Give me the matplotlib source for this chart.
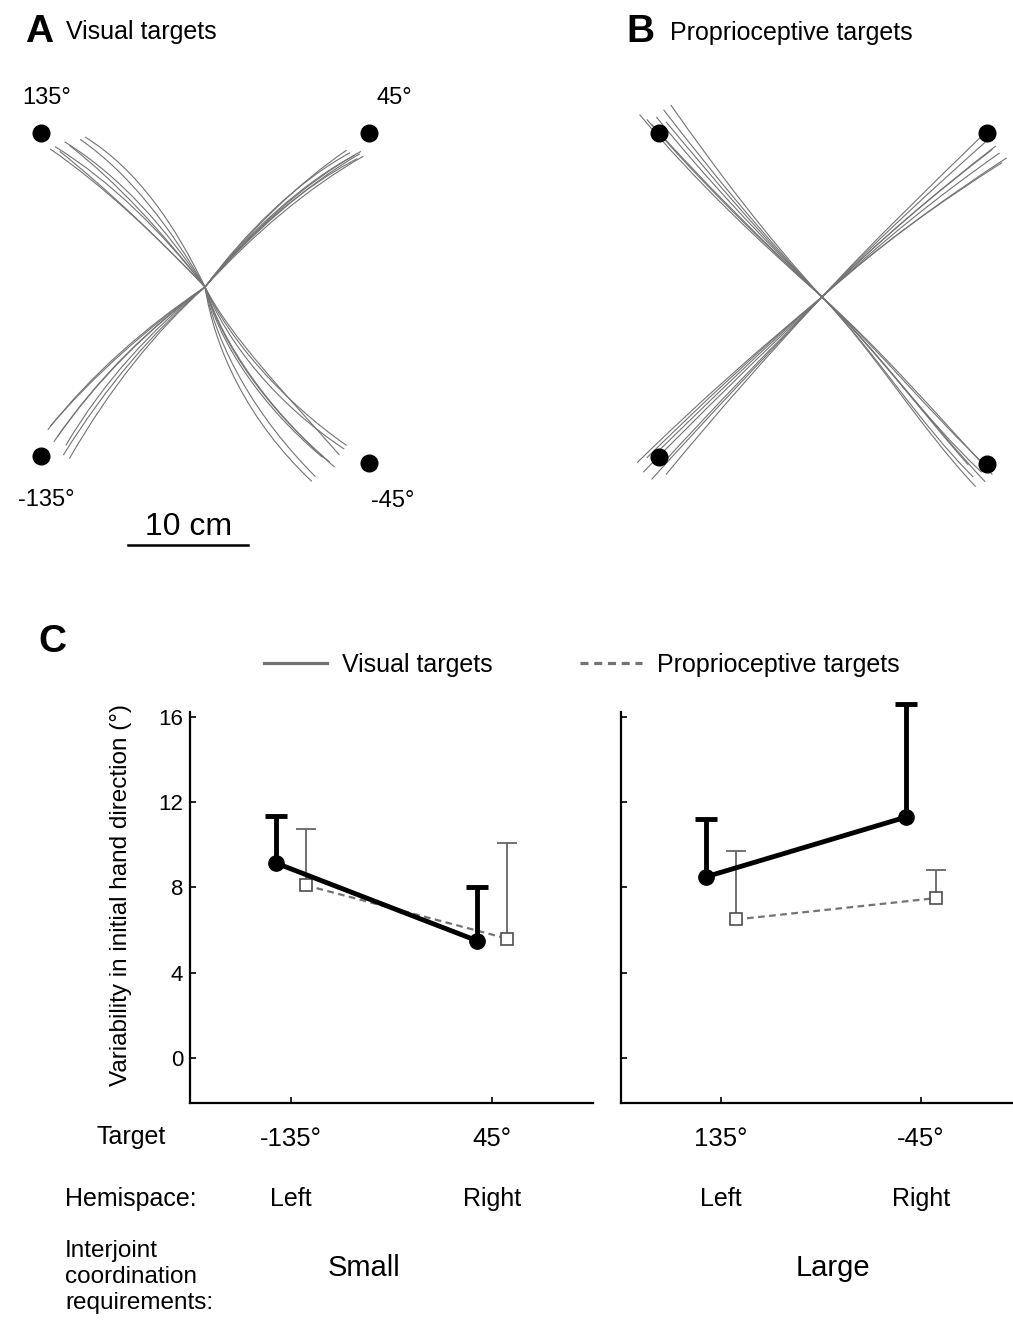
import numpy as np
import matplotlib
matplotlib.use("Agg")
import matplotlib.pyplot as plt
from matplotlib.path import Path
from matplotlib.patches import PathPatch
from matplotlib.lines import Line2D

plt.rcParams['font.family'] = ['Liberation Sans', 'DejaVu Sans']

W, H = 1013, 1323

# ---- panel A / B: hand paths (cm), cubic bezier control points from the start point
# each row: c1x, c1y, c2x, c2y, endx, endy
vis_135 = [(-3.6, 4.6, -7.8, 8.8, -12.5, 11.7), (-3.2, 4.8, -7.0, 9.2, -11.7, 12.1),
           (-2.8, 4.8, -6.2, 9.4, -10.4, 12.3), (-4.0, 4.2, -8.4, 8.4, -12.9, 11.5),
           (-2.4, 5.0, -5.6, 9.8, -10.0, 12.5), (-3.8, 4.0, -8.2, 8.2, -12.1, 11.3),
           (-3.4, 4.4, -7.4, 8.8, -11.3, 11.8)]
vis_45 = [(3.6, 4.5, 8.0, 8.6, 12.5, 11.0), (3.8, 4.4, 8.4, 8.5, 12.9, 11.1),
          (3.4, 4.6, 7.7, 8.8, 12.1, 11.2), (3.9, 4.3, 8.6, 8.3, 13.2, 10.9),
          (3.5, 4.5, 7.8, 8.7, 11.8, 11.4), (3.7, 4.5, 8.2, 8.4, 12.7, 10.7),
          (3.8, 4.6, 8.3, 8.7, 13.0, 11.3)]
vis_m135 = [(-4.6, -3.4, -8.8, -7.4, -12.3, -12.5), (-4.8, -3.4, -9.3, -7.4, -12.9, -11.6),
            (-4.4, -3.5, -8.4, -7.8, -11.6, -13.2), (-4.9, -3.3, -9.4, -7.2, -13.1, -11.9),
            (-4.3, -3.7, -8.2, -8.2, -11.8, -14.0), (-4.7, -3.5, -9.0, -7.7, -12.6, -12.9),
            (-4.2, -3.8, -7.9, -8.4, -11.3, -14.3)]
vis_m45 = [(1.4, -4.8, 5.2, -10.2, 10.4, -14.6), (1.8, -4.6, 6.0, -9.8, 11.6, -13.5),
           (1.0, -5.0, 4.2, -10.8, 9.2, -15.8), (2.0, -4.4, 6.6, -9.6, 11.8, -13.2),
           (0.8, -5.2, 3.6, -11.2, 8.9, -16.2), (1.5, -4.8, 5.4, -10.4, 10.8, -15.0),
           (1.2, -4.8, 4.8, -10.0, 9.8, -14.2), (2.2, -4.3, 7.0, -9.2, 11.2, -14.0)]

pro_135 = [(-4.9, 4.8, -9.6, 9.8, -13.8, 15.0), (-5.1, 4.7, -10.2, 9.7, -14.6, 14.8),
           (-4.7, 4.9, -9.1, 10.3, -13.2, 15.6), (-5.2, 4.6, -10.5, 9.6, -15.2, 15.2),
           (-4.6, 5.0, -8.8, 10.6, -12.6, 16.0), (-5.0, 4.7, -9.9, 9.6, -14.2, 14.4),
           (-4.8, 4.8, -9.0, 9.8, -13.0, 14.6)]
pro_45 = [(4.6, 4.6, 9.4, 8.6, 14.2, 12.3), (4.8, 4.5, 9.8, 8.5, 14.8, 12.0),
          (4.4, 4.6, 9.0, 8.8, 13.6, 12.9), (4.9, 4.4, 10.2, 8.2, 15.4, 11.6),
          (4.3, 4.7, 8.8, 9.0, 13.4, 13.5), (4.8, 4.4, 10.0, 8.0, 15.0, 11.2),
          (4.6, 4.6, 9.6, 8.8, 14.5, 12.6)]
pro_m135 = [(-4.7, -4.1, -9.2, -8.5, -13.8, -13.0), (-4.9, -4.1, -9.8, -8.7, -14.6, -13.4),
            (-4.5, -4.5, -9.0, -9.2, -13.4, -14.0), (-5.1, -4.2, -10.3, -8.8, -15.4, -13.8),
            (-4.4, -4.7, -8.8, -9.7, -13.0, -14.8), (-4.9, -4.6, -9.9, -9.5, -14.9, -14.6),
            (-4.7, -4.9, -9.5, -10.0, -14.2, -15.2)]
pro_m45 = [(4.6, -4.4, 8.4, -10.0, 13.3, -14.6), (4.8, -4.4, 9.0, -9.7, 13.8, -14.2),
           (4.4, -4.5, 8.0, -10.4, 12.6, -15.0), (4.8, -4.3, 9.4, -9.6, 14.2, -14.8),
           (4.4, -4.6, 8.1, -10.8, 12.8, -15.8), (4.7, -4.5, 8.8, -10.3, 13.6, -15.4),
           (4.5, -4.4, 8.3, -9.6, 12.2, -14.0)]

target_labels = ['135°', '45°', '-135°', '-45°']
target_x_A = [-13.7, 13.7, -13.7, 13.7]
target_y_A = [12.8, 12.8, -14.1, -14.7]
target_x_B = [-13.6, 13.75, -13.6, 13.75]
target_y_B = [13.7, 13.7, -13.3, -13.9]

# ---- panel C: variability in initial hand direction (deg)
targets_small = ['-135°', '45°']
targets_large = ['135°', '-45°']
hemispace = ['Left', 'Right']
visual_small = [9.15, 5.5]
visual_small_err = [2.2, 2.5]
prop_small = [8.1, 5.6]
prop_small_err = [2.65, 4.5]
visual_large = [8.5, 11.3]
visual_large_err = [2.7, 5.3]
prop_large = [6.5, 7.5]
prop_large_err = [3.2, 1.3]


def rect(x0, y0, x1, y1):
    return [x0 / W, 1 - y1 / H, (x1 - x0) / W, (y1 - y0) / H]


fig = plt.figure(figsize=(W / 100, H / 100), dpi=100)


def draw_paths(ax, groups):
    for g in groups:
        for c1x, c1y, c2x, c2y, ex, ey in g:
            p = Path([(0, 0), (c1x, c1y), (c2x, c2y), (ex, ey)],
                     [Path.MOVETO, Path.CURVE4, Path.CURVE4, Path.CURVE4])
            ax.add_patch(PathPatch(p, fill=False, ec='0.45', lw=0.8))


# panel A
axA = fig.add_axes(rect(0, 70, 420, 560))
axA.set_xlim(-205 / 12, 215 / 12)
axA.set_ylim(-273 / 12, 217 / 12)
axA.axis('off')
draw_paths(axA, [vis_135, vis_45, vis_m135, vis_m45])
axA.plot(target_x_A, target_y_A, 'o', color='black', ms=12, zorder=5)
label_off = [(6, 29), (25, 29), (6, -50), (23, -44)]
for lab, x, y, off in zip(target_labels, target_x_A, target_y_A, label_off):
    axA.annotate(lab, (x, y), xytext=off, textcoords='offset pixels',
                 ha='center', va='baseline', fontsize=17)
axA.plot([-6.4, -6.4 + 10], [-21.5, -21.5], color='black', lw=1.8)
axA.text(-1.4, -20.7, '10 cm', ha='center', va='baseline', fontsize=23)

# panel B
axB = fig.add_axes(rect(600, 70, 1013, 560))
axB.set_xlim(-222 / 12, 191 / 12)
axB.set_ylim(-263 / 12, 227 / 12)
axB.axis('off')
draw_paths(axB, [pro_135, pro_45, pro_m135, pro_m45])
axB.plot(target_x_B, target_y_B, 'o', color='black', ms=12, zorder=5)

fig.text(25 / W, 1 - 42 / H, 'A', fontsize=28, fontweight='bold', va='baseline')
fig.text(66 / W, 1 - 39 / H, 'Visual targets', fontsize=18, va='baseline')
fig.text(626 / W, 1 - 42 / H, 'B', fontsize=28, fontweight='bold', va='baseline')
fig.text(670 / W, 1 - 40 / H, 'Proprioceptive targets', fontsize=18, va='baseline')
fig.text(38 / W, 1 - 652 / H, 'C', fontsize=28, fontweight='bold', va='baseline')

# panel C
ylim = (-2.11, 16.23)
axL = fig.add_axes(rect(190, 712, 593, 1103))
axR = fig.add_axes(rect(621, 712, 1021, 1103))
xpos = np.array([1, 2])
off = 0.075

for ax, vis, vis_e, pro, pro_e, labs in [
        (axL, visual_small, visual_small_err, prop_small, prop_small_err, targets_small),
        (axR, visual_large, visual_large_err, prop_large, prop_large_err, targets_large)]:
    eb = ax.errorbar(xpos + off, pro, yerr=[np.zeros(2), pro_e], fmt='none', ecolor='0.4',
                     elinewidth=1.3, capsize=7, capthick=1.3, clip_on=False, zorder=2)
    eb[1][0].set_visible(False)
    ax.plot(xpos + off, pro, color='0.45', lw=1.6, ls=(0, (3, 2)), zorder=2)
    ax.plot(xpos + off, pro, 's', ms=8, mfc='white', mec='0.3', mew=1.2, zorder=3)
    eb = ax.errorbar(xpos - off, vis, yerr=[np.zeros(2), vis_e], fmt='none', ecolor='black',
                     elinewidth=3.5, capsize=8, capthick=3.5, clip_on=False, zorder=4)
    eb[1][0].set_visible(False)
    ax.plot(xpos - off, vis, '-o', color='black', lw=3.5, ms=11, zorder=5, clip_on=False)
    ax.set_xlim(0.5, 2.5)
    ax.set_ylim(*ylim)
    ax.set_yticks([0, 4, 8, 12, 16])
    ax.set_xticks(xpos)
    ax.set_xticklabels(labs, fontsize=18.5)
    for s in ['top', 'right']:
        ax.spines[s].set_visible(False)
    for s in ['left', 'bottom']:
        ax.spines[s].set_linewidth(1.6)
    ax.tick_params(direction='in', length=4, width=1.2)
    ax.tick_params(axis='x', pad=17)
    ax.tick_params(axis='y', labelsize=16, pad=5)
    for x, h in zip(xpos, hemispace):
        ax.text(x, -0.2455, h, transform=ax.get_xaxis_transform(),
                ha='center', va='center', fontsize=18)

axR.set_yticklabels([])
axL.set_ylabel('Variability in initial hand direction (°)', fontsize=17.5)
axL.yaxis.set_label_coords(-0.143, 0.532)

handles = [Line2D([], [], color='0.45', lw=2.3),
           Line2D([], [], color='0.45', lw=2.3, ls=(0, (2.5, 1.8)))]
fig.legend(handles, ['Visual targets', 'Proprioceptive targets'], loc='center',
           bbox_to_anchor=(582 / W, 1 - 665 / H), ncol=2, frameon=False, fontsize=18,
           handlelength=2.5, handletextpad=0.6, columnspacing=3.5)

fig.text(131 / W, 1 - 1137 / H, 'Target', ha='center', va='center', fontsize=18)
fig.text(65 / W, 1 - 1199 / H, 'Hemispace:', ha='left', va='center', fontsize=18)
fig.text(65 / W, 1 - 1277 / H, 'Interjoint\ncoordination\nrequirements:', ha='left',
         va='center', fontsize=17.5, linespacing=1.25)
fig.text(364 / W, 1 - 1268 / H, 'Small', ha='center', va='center', fontsize=21)
fig.text(833 / W, 1 - 1268 / H, 'Large', ha='center', va='center', fontsize=21)

fig.savefig('out.png', dpi=100)
